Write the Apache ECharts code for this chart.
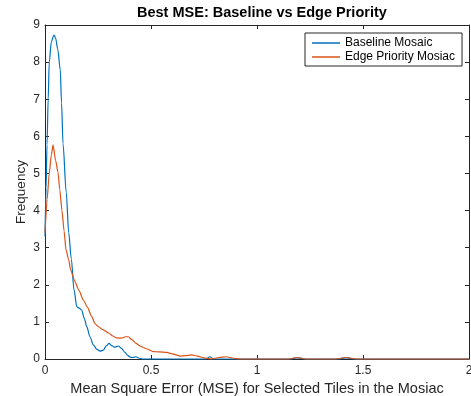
<!DOCTYPE html>
<html>
<head>
<meta charset="utf-8">
<script src="https://cdn.jsdelivr.net/npm/echarts@6/dist/echarts.min.js"></script>
<style>
html,body{margin:0;padding:0;background:#fff;}
#chart{width:471px;height:396px;}
</style>
</head>
<body>
<div id="chart"></div>
<script>
// ---- data ----
const seriesNames = ["Baseline Mosaic", "Edge Priority Mosiac"];
const xTicks = [0, 0.5, 1, 1.5, 2];
const yTicks = [0, 1, 2, 3, 4, 5, 6, 7, 8, 9];

const baselineX = [0, 0.005, 0.0094, 0.015, 0.02, 0.03, 0.042, 0.05, 0.06, 0.072, 0.078, 0.085, 0.1, 0.112, 0.124, 0.137, 0.15, 0.162, 0.173, 0.185, 0.197, 0.212, 0.228, 0.245, 0.26, 0.275, 0.29, 0.302, 0.315, 0.327, 0.346, 0.362, 0.377, 0.39, 0.402, 0.415, 0.428, 0.445, 0.46, 0.76, 0.778, 0.795, 1.15, 1.19, 1.23, 1.38, 1.42, 1.46, 2];
const baselineY = [3.3, 4.6, 5.77, 7.0, 8.0, 8.55, 8.73, 8.65, 8.35, 7.8, 6.9, 5.8, 4.5, 3.4, 2.7, 1.86, 1.41, 1.37, 1.32, 1.1, 0.87, 0.6, 0.38, 0.26, 0.21, 0.24, 0.36, 0.42, 0.36, 0.32, 0.35, 0.28, 0.18, 0.1, 0.05, 0.04, 0.06, 0.02, 0, 0, 0.06, 0, 0, 0.03, 0, 0, 0.03, 0, 0];

const edgeX = [0, 0.01, 0.02, 0.03, 0.038, 0.05, 0.061, 0.07, 0.08, 0.09, 0.099, 0.112, 0.121, 0.14, 0.16, 0.181, 0.2, 0.22, 0.236, 0.25, 0.27, 0.283, 0.3, 0.32, 0.338, 0.36, 0.38, 0.393, 0.41, 0.43, 0.448, 0.464, 0.48, 0.511, 0.54, 0.574, 0.6, 0.637, 0.66, 0.692, 0.72, 0.75, 0.786, 0.82, 0.855, 0.89, 0.92, 1.15, 1.19, 1.23, 1.37, 1.42, 1.47, 2];
const edgeY = [3.4, 4.3, 5.0, 5.5, 5.77, 5.35, 5.04, 4.55, 4.0, 3.45, 2.94, 2.67, 2.4, 2.1, 1.85, 1.59, 1.4, 1.15, 0.95, 0.88, 0.8, 0.76, 0.7, 0.62, 0.57, 0.56, 0.6, 0.6, 0.52, 0.42, 0.35, 0.31, 0.27, 0.2, 0.19, 0.18, 0.14, 0.08, 0.09, 0.11, 0.08, 0.03, 0, 0.04, 0.06, 0.02, 0, 0, 0.04, 0, 0, 0.04, 0, 0];

const titleText = "Best MSE: Baseline vs Edge Priority";
const xLabel = "Mean Square Error (MSE) for Selected Tiles in the Mosiac";
const yLabel = "Frequency";

// ---- build chart ----
const FONT = "'Liberation Sans', Arial, Helvetica, sans-serif";
const AX = '#262626';
const pairs = (xs, ys) => xs.map((x, i) => [x, ys[i]]);

const chart = echarts.init(document.getElementById('chart'), null, {renderer: 'canvas'});

const xBase = {
  type: 'value', min: xTicks[0], max: xTicks[xTicks.length - 1], interval: xTicks[1] - xTicks[0],
  splitLine: {show: false},
  axisLine: {show: true, onZero: false, lineStyle: {color: AX, width: 1}},
  axisTick: {show: true, inside: true, length: 4, lineStyle: {color: AX}}
};
const yBase = {
  type: 'value', min: yTicks[0], max: yTicks[yTicks.length - 1], interval: yTicks[1] - yTicks[0],
  splitLine: {show: false},
  axisLine: {show: true, onZero: false, lineStyle: {color: AX, width: 1}},
  axisTick: {show: true, inside: true, length: 4, lineStyle: {color: AX}}
};

chart.setOption({
  animation: false,
  backgroundColor: '#fff',
  textStyle: {fontFamily: FONT},
  title: {
    text: titleText, left: 132, top: 0,
    textStyle: {fontFamily: FONT, fontSize: 14.5, fontWeight: 'bold', color: '#000'}
  },
  grid: {left: 45, top: 25, width: 424, height: 334, containLabel: false, outerBoundsMode: 'none'},
  legend: {
    orient: 'vertical', left: 305, top: 33,
    padding: [3, 7, 2, 7], itemGap: 0,
    itemWidth: 28, itemHeight: 1.5, icon: 'rect',
    borderColor: AX, borderWidth: 1, backgroundColor: '#fff',
    textStyle: {fontFamily: FONT, fontSize: 12, color: '#000', lineHeight: 14},
    data: seriesNames
  },
  xAxis: [
    Object.assign({}, xBase, {
      position: 'bottom',
      axisLabel: {show: true, margin: 6, color: AX, fontSize: 12, fontFamily: FONT},
      name: xLabel, nameLocation: 'middle', nameGap: 22, nameMoveOverlap: false,
      nameTextStyle: {fontFamily: FONT, fontSize: 14.5, color: AX}
    }),
    Object.assign({}, xBase, {position: 'top', axisLabel: {show: false}})
  ],
  yAxis: [
    Object.assign({}, yBase, {
      position: 'left',
      axisLabel: {show: true, margin: 5, color: AX, fontSize: 12, fontFamily: FONT},
      name: yLabel, nameLocation: 'middle', nameGap: 17, nameMoveOverlap: false,
      nameTextStyle: {fontFamily: FONT, fontSize: 13.5, color: AX}
    }),
    Object.assign({}, yBase, {position: 'right', axisLabel: {show: false}})
  ],
  series: [
    {
      name: seriesNames[0], type: 'line', xAxisIndex: 0, yAxisIndex: 0,
      data: pairs(baselineX, baselineY),
      showSymbol: false, symbol: 'none', smooth: 0.3, smoothMonotone: 'x', clip: false,
      lineStyle: {color: '#0072BD', width: 1.2}, itemStyle: {color: '#0072BD'}
    },
    {
      name: seriesNames[1], type: 'line', xAxisIndex: 0, yAxisIndex: 0,
      data: pairs(edgeX, edgeY),
      showSymbol: false, symbol: 'none', smooth: 0.2, smoothMonotone: 'x', clip: false,
      lineStyle: {color: '#D95319', width: 1.2}, itemStyle: {color: '#D95319'}
    }
  ]
});
</script>
</body>
</html>
